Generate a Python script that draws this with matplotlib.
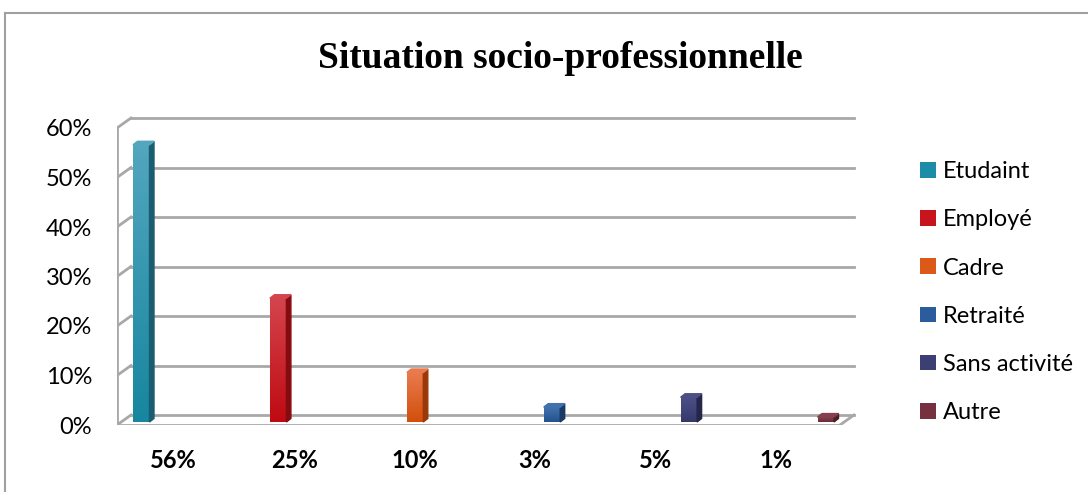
import numpy as np
import matplotlib
matplotlib.use("Agg")
import matplotlib.pyplot as plt
from matplotlib.patches import Polygon, Patch
from matplotlib.lines import Line2D

# Donnees
categories = ["56%", "25%", "10%", "3%", "5%", "1%"]
series = ["Etudaint", "Employé", "Cadre", "Retraité", "Sans activité", "Autre"]
values = [0.56, 0.25, 0.10, 0.03, 0.05, 0.01]
yticks = [0.0, 0.1, 0.2, 0.3, 0.4, 0.5, 0.6]

# couleurs (haut, bas, cote)
col_top = ["#52a6be", "#d4444c", "#ea7a4e", "#4272ae", "#4c5086", "#84404f"]
col_bot = ["#17869f", "#bf0a13", "#d24f0b", "#23548e", "#35396a", "#6c2a3a"]
col_side = ["#1b5d70", "#860b11", "#9a3907", "#183a64", "#24274a", "#4c1c28"]
legend_cols = ["#1d8ca8", "#c8141c", "#dc5a18", "#2b5c9c", "#3b3f73", "#76303f"]

W, H, DPI = 1088, 492, 100
fig = plt.figure(figsize=(W / DPI, H / DPI), dpi=DPI)

# cadre exterieur
fig.add_artist(Line2D([5 / W, 1], [1 - 13 / H, 1 - 13 / H], color="#a0a0a0", lw=1.5))
fig.add_artist(Line2D([5 / W, 5 / W], [0, 1 - 13 / H], color="#a0a0a0", lw=1.5))

fig.text(560 / W, 1 - 58 / H, "Situation socio-professionnelle", ha="center", va="center",
         fontsize=27, fontweight="bold", family="Liberation Serif")

# axes : face avant de 117px a 840px (6 categories), 0 a 425px, 60% a 128px
left, right, bottom, top = 117, 860, 425, 115
ax = fig.add_axes([left / W, 1 - bottom / H, (right - left) / W, (bottom - top) / H])
cat_px = (840 - 117) / 6.0
ypx = (425 - 128) / 0.6

dx = 14 / cat_px      # profondeur du mur
dy = 10 / ypx
grid_c = "#a8a8a8"
n = len(categories)

# mur du fond et plancher
for v in yticks:
    ax.plot([dx, n + dx], [v + dy, v + dy], color=grid_c, lw=2, zorder=1)
    ax.plot([0, dx], [v, v + dy], color=grid_c, lw=2, zorder=1)
ax.plot([0, 0], [0, yticks[-1]], color=grid_c, lw=2, zorder=1)
ax.plot([0, n], [0, 0], color=grid_c, lw=2, zorder=1)
ax.plot([n, n + dx], [0, dy], color=grid_c, lw=2, zorder=1)

# barres 3D
bw = 16.5 / cat_px
bdx = 4.5 / cat_px
bdy = 3.5 / ypx
base = 3 / ypx
for i, v in enumerate(values):
    x0 = i + (16 + 16.4 * i) / cat_px
    bars = ax.bar(x0, v, width=bw, bottom=base, align="edge", color=col_bot[i], zorder=3)
    rect = bars[0]
    grad = np.linspace(0, 1, 64).reshape(-1, 1)
    c1 = np.array(matplotlib.colors.to_rgb(col_bot[i]))
    c2 = np.array(matplotlib.colors.to_rgb(col_top[i]))
    img = c1 + (c2 - c1) * grad[:, :, None]
    im = ax.imshow(img, extent=[x0, x0 + bw, base, base + v], origin="lower",
                   aspect="auto", zorder=4)
    im.set_clip_path(rect)
    side = Polygon([[x0 + bw, base], [x0 + bw + bdx, base + bdy],
                    [x0 + bw + bdx, base + v + bdy], [x0 + bw, base + v]],
                   closed=True, color=col_side[i], zorder=4)
    ax.add_patch(side)
    topf = Polygon([[x0, base + v], [x0 + bdx, base + v + bdy],
                    [x0 + bw + bdx, base + v + bdy], [x0 + bw, base + v]],
                   closed=True, color=col_top[i], zorder=4)
    ax.add_patch(topf)

ax.set_xlim(0, (right - left) / cat_px)
ax.set_ylim(0, (bottom - top) / ypx)

ax.set_yticks(yticks)
ax.set_yticklabels([f"{int(round(t * 100))}%" for t in yticks], fontsize=17, family="Lato")
ax.set_xticks(np.arange(n) + 0.47)
ax.set_xticklabels(categories, fontsize=17, fontweight="bold", family="Lato")
ax.tick_params(axis="y", length=0, pad=18)
ax.tick_params(axis="x", length=0, pad=17)
for s in ax.spines.values():
    s.set_visible(False)
ax.set_facecolor("none")

handles = [Patch(facecolor=c, edgecolor="none") for c in legend_cols]
fig.legend(handles, series, loc="upper left", bbox_to_anchor=(899 / W, 1 - 140 / H),
           frameon=False, prop={"family": "Lato", "size": 17},
           handlelength=0.65, handleheight=0.65, handletextpad=0.3, labelspacing=1.15)

fig.savefig("out.png", dpi=DPI)
